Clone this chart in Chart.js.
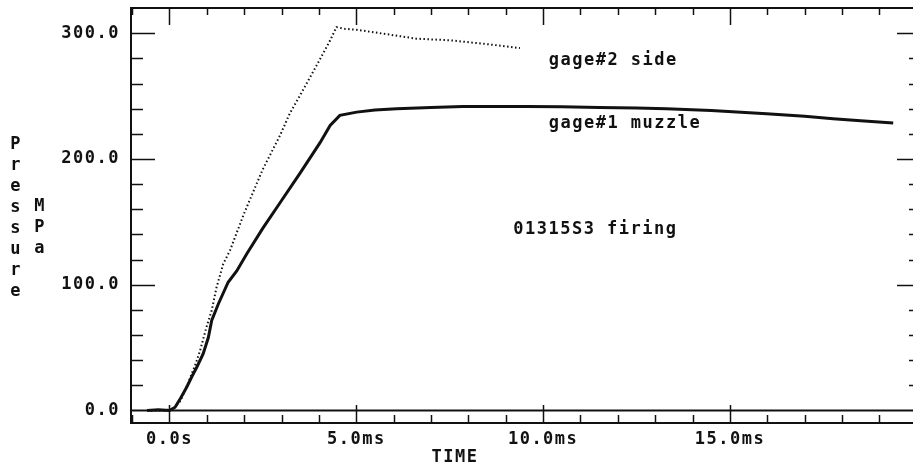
<!DOCTYPE html>
<html><head><meta charset="utf-8">
<script src="https://cdn.jsdelivr.net/npm/chart.js@4"></script>
<style>html,body{margin:0;padding:0;background:#fff;overflow:hidden}#wrap{width:913px;height:474px;position:relative;background:#fff}</style>
</head><body><div id="wrap"><canvas id="c" width="913" height="474"></canvas></div>
<script>
// ---- data ----
const gage1Time = [-0.6, -0.3, 0.0, 0.15, 0.3, 0.46, 0.6, 0.73, 0.9, 1.04, 1.13, 1.31, 1.57, 1.8, 2.07, 2.5, 3.0, 3.5, 4.03, 4.3, 4.56, 5.01, 5.5, 6.08, 7.0, 7.85, 8.84, 9.56, 10.5, 11.5, 12.5, 13.3, 14.5, 15.98, 17.0, 17.76, 18.5, 19.37];
const gage1Pressure = [0, 0.5, 0, 2.6, 10, 18.5, 27, 34.4, 45, 58, 71.6, 84.9, 102, 111, 124.7, 145, 167, 189, 213, 226.7, 234.7, 237.3, 239, 240, 241, 241.8, 241.8, 241.8, 241.5, 241, 240.5, 240, 238.5, 236, 234, 232, 230.5, 228.6];
const gage2Time = [-0.5, -0.2, 0.1, 0.3, 0.5, 0.7, 0.82, 0.99, 1.13, 1.26, 1.44, 1.62, 2.0, 2.5, 2.96, 3.22, 3.57, 3.94, 4.3, 4.47, 4.7, 5.01, 5.72, 6.61, 7.51, 8.4, 9.38];
const gage2Pressure = [0, 0, 1, 8, 22, 37, 47.7, 66.3, 79.6, 98, 116.7, 127.3, 157, 192, 218.8, 236.3, 254.6, 274.5, 294.4, 304.9, 303.5, 302.8, 299.7, 295.7, 294.4, 291.7, 288.2];
const xLabelTicks = [0, 5, 10, 15];
const yLabelTicks = [0, 100, 200, 300];
const xRange = [-1.03, 19.9];
const yRange = [-9.94, 320.1];
const seriesNames = ['gage#1 muzzle', 'gage#2 side'];
const noteText = '01315S3 firing';
const xTitle = 'TIME';
const yTitle = 'Pressure';
const yUnit = 'MPa';

const FAMILY = '"DejaVu Sans Mono", "Liberation Mono", monospace';
const FONT = 'bold 17px ' + FAMILY;
const INK = '#111';

const toPts = (ts, vs) => ts.map((t, i) => ({x: t, y: vs[i]}));

const framePlugin = {
  id: 'frame',
  beforeDraw(chart) {
    chart.ctx.letterSpacing = '1.5px';
    chart.ctx.fillStyle = '#fff';
    chart.ctx.fillRect(0, 0, chart.width, chart.height);
  },
  beforeDatasetsDraw(chart) {
    const {ctx, chartArea: a, scales: {x, y}} = chart;
    ctx.save();
    ctx.strokeStyle = INK;
    ctx.lineWidth = 2;
    ctx.beginPath();
    ctx.moveTo(a.left, a.top - 1); ctx.lineTo(a.left, a.bottom + 1);
    ctx.moveTo(a.left, a.top); ctx.lineTo(a.right, a.top);
    ctx.moveTo(a.left, a.bottom); ctx.lineTo(a.right, a.bottom);
    const y0 = y.getPixelForValue(0);
    ctx.moveTo(a.left, y0); ctx.lineTo(a.right, y0);
    ctx.stroke();
    ctx.lineWidth = 1.5;
    ctx.beginPath();
    for (let t = Math.ceil(x.min); t <= x.max; t++) {
      const px = Math.round(x.getPixelForValue(t)) + 0.5;
      const major = t % 5 === 0;
      ctx.moveTo(px, a.top); ctx.lineTo(px, a.top + (major ? 17 : 7));
      ctx.moveTo(px, a.bottom); ctx.lineTo(px, a.bottom - (major ? 18 : 8));
    }
    for (let v = 20; v <= 300; v += 20) {
      const py = Math.round(y.getPixelForValue(v)) + 0.5;
      const major = v % 100 === 0;
      ctx.moveTo(a.left, py); ctx.lineTo(a.left + (major ? 24 : 12), py);
      ctx.moveTo(a.right, py); ctx.lineTo(a.right - (major ? 16 : 4), py);
    }
    ctx.stroke();
    ctx.restore();
  },
  afterDraw(chart) {
    const {ctx, scales: {x, y}} = chart;
    ctx.save();
    ctx.fillStyle = INK;
    ctx.font = FONT;
    ctx.textBaseline = 'alphabetic';
    ctx.textAlign = 'left';
    ctx.fillText(seriesNames[1], x.getPixelForValue(10.15), y.getPixelForValue(274.8));
    ctx.fillText(seriesNames[0], x.getPixelForValue(10.15), y.getPixelForValue(224.5));
    ctx.fillText(noteText, x.getPixelForValue(9.2), y.getPixelForValue(140.2));
    ctx.textAlign = 'center';
    ctx.textBaseline = 'middle';
    ctx.fillText(xTitle, 455, 458);
    for (let i = 0; i < yTitle.length; i++) {
      ctx.fillText(yTitle[i], 16, 145 + i * 21);
    }
    for (let i = 0; i < yUnit.length; i++) {
      ctx.fillText(yUnit[i], 40, 207 + i * 21);
    }
    ctx.restore();
  }
};

new Chart(document.getElementById('c'), {
  type: 'line',
  data: {
    datasets: [
      {label: seriesNames[0], data: toPts(gage1Time, gage1Pressure), borderColor: INK, borderWidth: 3, pointRadius: 0, tension: 0, fill: false},
      {label: seriesNames[1], data: toPts(gage2Time, gage2Pressure), borderColor: INK, borderWidth: 2, borderDash: [1.5, 2.5], pointRadius: 0, tension: 0, fill: false}
    ]
  },
  options: {
    responsive: false,
    animation: false,
    devicePixelRatio: 1,
    layout: {padding: {top: 8, right: 0, left: 0, bottom: 0}},
    plugins: {legend: {display: false}, tooltip: {enabled: false}, title: {display: false}},
    scales: {
      x: {
        type: 'linear', min: xRange[0], max: xRange[1],
        grid: {display: false, drawTicks: false},
        border: {display: false},
        afterBuildTicks: s => { s.ticks = xLabelTicks.map(v => ({value: v})); },
        afterFit: s => { s.height = 51; s.paddingLeft = 0; s.paddingRight = 0; },
        ticks: {
          autoSkip: false, maxRotation: 0, padding: 6, color: INK,
          font: {family: FAMILY, size: 17, weight: 'bold'},
          callback: v => v === 0 ? '0.0s' : v.toFixed(1) + 'ms'
        }
      },
      y: {
        type: 'linear', min: yRange[0], max: yRange[1],
        grid: {display: false, drawTicks: false},
        border: {display: false},
        afterBuildTicks: s => { s.ticks = yLabelTicks.map(v => ({value: v})); },
        afterFit: s => { s.width = 131; s.paddingTop = 0; s.paddingBottom = 0; },
        ticks: {
          autoSkip: false, padding: 11, color: INK,
          font: {family: FAMILY, size: 17, weight: 'bold'},
          callback: v => v.toFixed(1)
        }
      }
    }
  },
  plugins: [framePlugin]
});
</script>
</body></html>
